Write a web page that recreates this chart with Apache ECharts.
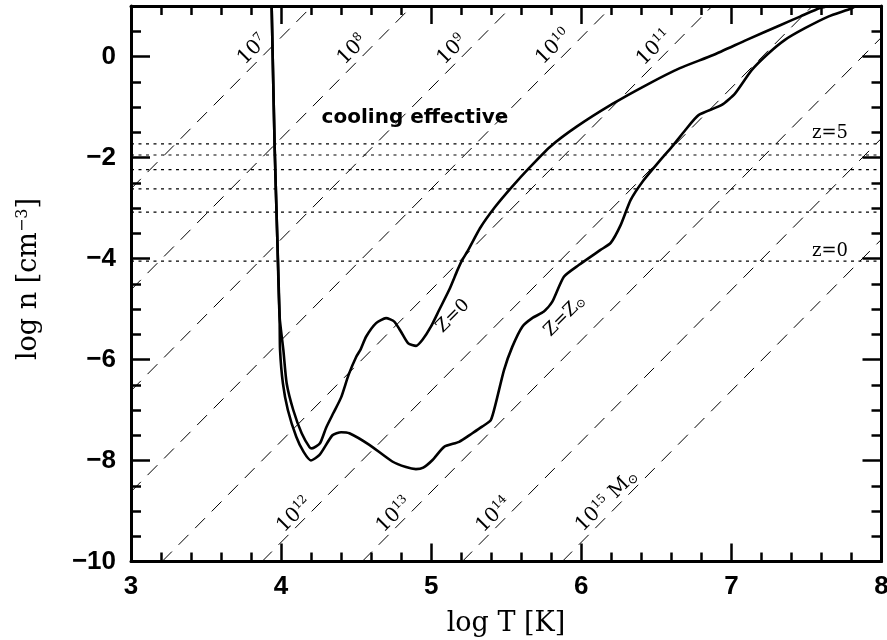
<!DOCTYPE html>
<html><head><meta charset="utf-8">
<script src="https://cdn.jsdelivr.net/npm/echarts@6/dist/echarts.min.js"></script>
<style>html,body{margin:0;padding:0;background:#fff}#c{width:887px;height:640px}</style>
</head><body><div id="c"></div>
<script>
// ---- data ----
const zeroT = [3.937,3.957,3.975,3.990,4.015,4.037,4.081,4.137,4.190,4.205,4.259,4.300,4.350,4.400,4.450,4.500,4.530,4.566,4.633,4.699,4.754,4.799,4.847,4.899,4.942,4.998,5.053,5.120,5.175,5.203,5.247,5.325,5.425,5.538,5.658,5.791,5.969,6.213,6.436,6.657,6.879,7.102,7.325,7.457,7.590,7.657];
const zeroN = [1.00,-1.79,-3.63,-5.15,-5.81,-6.47,-7.00,-7.46,-7.74,-7.76,-7.66,-7.35,-7.05,-6.75,-6.30,-5.95,-5.80,-5.55,-5.28,-5.18,-5.25,-5.45,-5.68,-5.73,-5.61,-5.35,-5.02,-4.62,-4.23,-4.05,-3.83,-3.40,-2.98,-2.58,-2.19,-1.79,-1.39,-0.93,-0.56,-0.23,0.03,0.33,0.62,0.79,0.96,1.00];
const solarT = [3.937,3.957,3.975,3.990,3.993,4.012,4.045,4.101,4.150,4.199,4.256,4.342,4.400,4.455,4.588,4.741,4.832,4.898,4.947,5.009,5.086,5.186,5.274,5.339,5.397,5.430,5.485,5.540,5.607,5.673,5.751,5.806,5.884,5.983,6.128,6.196,6.262,6.329,6.415,6.515,6.603,6.692,6.781,6.936,7.025,7.135,7.246,7.357,7.490,7.645,7.799,7.830];
const solarN = [1.00,-1.79,-3.63,-5.15,-5.81,-6.47,-7.00,-7.53,-7.83,-8.00,-7.89,-7.50,-7.44,-7.46,-7.69,-8.02,-8.13,-8.17,-8.14,-7.99,-7.73,-7.63,-7.46,-7.33,-7.20,-6.87,-6.21,-5.75,-5.35,-5.18,-5.05,-4.86,-4.36,-4.13,-3.83,-3.69,-3.34,-2.84,-2.45,-2.09,-1.79,-1.46,-1.16,-0.96,-0.73,-0.27,0.06,0.33,0.56,0.79,0.95,1.00];
const zLevels = [-1.73,-1.95,-2.24,-2.62,-3.08,-4.05];
const massExp = [7,8,9,10,11,12,13,14,15];
const massLineStart = [[3,-2.62],[3,-4.62],[3,-6.62],[3,-8.62],[3.207,-10],[3.873,-10],[4.54,-10],[5.207,-10],[5.873,-10]];
const massLineEnd = [[4.207,1],[4.873,1],[5.54,1],[6.207,1],[6.873,1],[7.54,1],[8,0.38],[8,-1.62],[8,-3.62]];
const xTickValues = [3,4,5,6,7,8];
const yTickValues = [-10,-8,-6,-4,-2,0];

const chart = echarts.init(document.getElementById('c'), null, {renderer:'canvas'});
const BLACK = '#000';
const serif = 'DejaVu Serif';
const sans = 'Liberation Sans';

function zip(a,b){return a.map((v,i)=>[v,b[i]]);}

const series = [];
massExp.forEach((e,i)=>{
  series.push({type:'line', data:[massLineStart[i], massLineEnd[i]], symbol:'none', silent:true, animation:false,
    lineStyle:{color:BLACK, width:1, type:[14,9.5]}, z:2});
});
zLevels.forEach(v=>{
  series.push({type:'line', data:[[3,v],[8,v]], symbol:'none', silent:true, animation:false,
    lineStyle:{color:BLACK, width:1.2, type:[3,4.5]}, z:2});
});
series.push({type:'line', data:zip(zeroT,zeroN), symbol:'none', smooth:0.2, animation:false, lineStyle:{color:BLACK,width:2.6}, z:3});
series.push({type:'line', data:zip(solarT,solarN), symbol:'none', smooth:0.2, animation:false, lineStyle:{color:BLACK,width:2.6}, z:3});

function xAxisCfg(pos, labels){
  return {type:'value', min:3, max:8, interval:1, position:pos, gridIndex:0,
    axisLine:{show:true, onZero:false, lineStyle:{color:BLACK,width:3}},
    axisTick:{show:true, inside:true, length:18, lineStyle:{color:BLACK,width:2.5}},
    minorTick:{show:true, splitNumber:5, length:9, lineStyle:{color:BLACK,width:2.5}},
    splitLine:{show:false},
    axisLabel:{show:labels, margin:12, color:BLACK, fontFamily:sans, fontWeight:'bold', fontSize:26,
      formatter:v=>xTickValues.includes(v)?String(v):''}};
}
function yMajor(pos, labels){
  return {type:'value', min:-10, max:1, interval:2, position:pos, gridIndex:0,
    axisLine:{show:true, onZero:false, lineStyle:{color:BLACK,width:3}},
    axisTick:{show:true, inside:true, length:19, lineStyle:{color:BLACK,width:2.5}},
    splitLine:{show:false},
    axisLabel:{show:labels, margin:15, color:BLACK, fontFamily:sans, fontWeight:'bold', fontSize:26,
      formatter:v=>yTickValues.includes(v)?String(v).replace('-','\u2212'):''}};
}
function yMinor(pos){
  return {type:'value', min:-10, max:1, interval:0.5, position:pos, gridIndex:0,
    axisLine:{show:false, onZero:false},
    axisTick:{show:true, inside:true, length:10, lineStyle:{color:BLACK,width:2.5}},
    splitLine:{show:false}, axisLabel:{show:false}};
}

chart.setOption({
  animation:false,
  backgroundColor:'#fff',
  grid:{left:131, right:5.5, top:6, bottom:78.5, containLabel:false, outerBoundsMode:'none'},
  xAxis:[xAxisCfg('bottom',true), xAxisCfg('top',false)],
  yAxis:[yMajor('left',true), yMinor('left'), yMajor('right',false), yMinor('right')],
  series:series
});

function P(x,y){return chart.convertToPixel({gridIndex:0},[x,y]);}
const richBase = {
  b:{fontFamily:serif, fontSize:20, color:BLACK},
  s:{fontFamily:serif, fontSize:12, color:BLACK, padding:[0,0,10,0]},
  t:{fontFamily:serif, fontSize:13, color:BLACK, padding:[8,0,0,0]},
  a:{fontFamily:serif, fontSize:27, color:BLACK},
  as:{fontFamily:serif, fontSize:16, color:BLACK, padding:[0,0,12,0]},
  z:{fontFamily:serif, fontSize:18, color:BLACK},
  zs:{fontFamily:serif, fontSize:12, color:BLACK, padding:[6,0,0,0]}
};
function T(x,y,text,rot,extra){
  const p = P(x,y);
  return Object.assign({type:'text', x:p[0], y:p[1], rotation:rot||0, z:10, silent:true,
    style:{text:text, rich:richBase, align:'center', verticalAlign:'middle', fill:BLACK}}, extra||{});
}
const R = Math.PI/4;
const topLabelPos = [[3.811,0.13],[4.475,0.13],[5.140,0.13],[5.817,0.19],[6.488,0.17]];
const botLabelPos = [[4.090,-9.08],[4.754,-9.08],[5.419,-9.08],[6.170,-8.80]];
const g = [];
massExp.forEach((e,i)=>{
  let pos, txt;
  if(i<5){pos=topLabelPos[i];} else {pos=botLabelPos[i-5];}
  txt = '{b|10}{s|'+e+'}';
  if(e===15) txt = '{b|10}{s|15}{b| M}{t|\u2299}';
  g.push(T(pos[0],pos[1],txt,R));
});
g.push(T(5.145,-5.14,'{z|Z=0}',R));
g.push(T(5.891,-5.14,'{z|Z=Z}{zs|\u2299}',R));
g.push(T(7.657,-1.515,'{z|z=5}',0));
g.push(T(7.657,-3.85,'{z|z=0}',0));
// cooling effective
(function(){const p=P(4.892,-1.218);
  g.push({type:'text', x:p[0], y:p[1], z:10, silent:true, style:{text:'cooling effective', fontFamily:'DejaVu Sans', fontWeight:'bold', fontSize:20, fill:BLACK, align:'center', verticalAlign:'middle'}});})();
// axis names
g.push({type:'text', x:506, y:624, z:10, silent:true, style:{text:'{a|log T [K]}', rich:richBase, align:'center', verticalAlign:'middle'}});
g.push({type:'text', x:29, y:279, rotation:Math.PI/2, z:10, silent:true, style:{text:'{a|log n [cm}{as|\u22123}{a|]}', rich:richBase, align:'center', verticalAlign:'middle'}});
chart.setOption({graphic:g});
</script></body></html>
